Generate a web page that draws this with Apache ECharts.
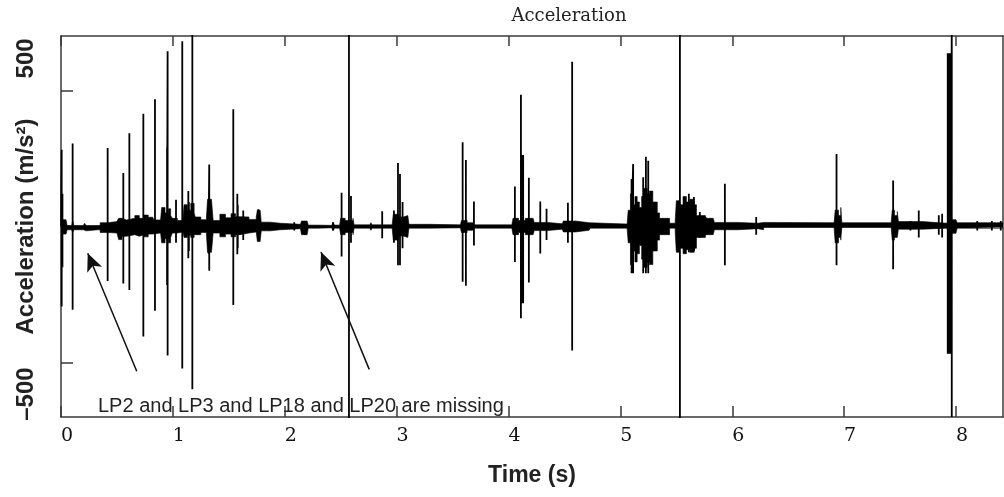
<!DOCTYPE html>
<html>
<head>
<meta charset="utf-8">
<script src="https://cdn.jsdelivr.net/npm/echarts@6/dist/echarts.min.js"></script>
<style>
html,body{margin:0;padding:0;background:#fff;}
#chart{width:1004px;height:497px;}
</style>
</head>
<body>
<div id="chart"></div>
<script>
// ---- data ----
var xTicks = [0, 1, 2, 3, 4, 5, 6, 7, 8];
var yTicks = [-500, 0, 500];
var yTickLabels = [-500, 500];

// isolated impact spikes: time (s), positive peak, negative peak (m/s^2)
var spikeT = [0.006,0.013,0.104,0.417,0.557,0.611,0.736,0.840,0.948,0.953,
              1.028,1.084,1.138,1.143,1.174,1.320,1.325,1.540,1.576,1.580,
              1.629,1.763,2.085,2.180,2.433,2.508,2.574,2.592,2.871,2.976,
              3.012,3.030,3.053,3.590,3.619,3.691,4.057,4.111,4.125,4.131,
              4.182,4.284,4.340,4.531,4.569,5.100,5.114,5.204,5.228,5.249,
              5.279,5.532,5.612,5.657,5.710,5.761,5.934,6.214,6.932,7.438,
              7.593,7.667,7.846,7.876,7.926,7.936,7.946,7.956,7.962,8.190,
              8.320,8.400];
var spikeUp = [282,120,305,288,197,343,414,468,290,644,
               98,681,130,90,760,96,228,431,120,80,
               59,63,16,20,16,124,760,112,56,59,
               233,193,90,310,244,92,147,484,263,263,
               179,92,65,87,605,175,230,181,256,242,
               71,760,120,108,53,35,157,35,266,169,
               20,59,41,47,637,637,637,637,760,20,
               20,20];
var spikeDown = [-294,-150,-306,-200,-209,-233,-404,-310,-215,-474,
                 -60,-522,-117,-90,-598,-100,-163,-288,-102,-80,
                 -50,-45,-15,-30,-15,-110,-760,-60,-43,-60,
                 -142,-142,-80,-203,-218,-70,-130,-337,-282,-282,
                 -206,-99,-50,-60,-456,-172,-172,-172,-172,-172,
                 -60,-760,-95,-90,-40,-30,-142,-30,-142,-157,
                 -15,-40,-30,-40,-468,-468,-468,-468,-700,-15,
                 -15,-15];

// envelope of the dense vibration band around zero (time, upper, lower)
var noiseT = [0.000,0.045,0.055,0.095,0.105,0.115,0.200,0.210,0.225,0.330,
              0.350,0.420,0.500,0.515,0.545,0.585,0.600,0.660,0.700,0.740,
              0.780,0.820,0.830,0.890,0.900,0.930,0.960,0.980,0.995,1.040,
              1.090,1.100,1.130,1.160,1.190,1.200,1.250,1.300,1.310,1.345,
              1.360,1.420,1.470,1.520,1.560,1.600,1.610,1.680,1.745,1.755,
              1.780,1.790,1.870,1.960,1.970,2.050,2.140,2.150,2.200,2.210,
              2.300,2.420,2.430,2.445,2.490,2.500,2.540,2.610,2.620,2.760,
              2.770,2.780,2.960,2.970,3.020,3.060,3.100,3.110,3.300,3.570,
              3.580,3.630,3.680,3.690,4.030,4.040,4.090,4.150,4.220,4.230,
              4.350,4.480,4.490,4.600,4.720,4.730,5.060,5.070,5.090,5.110,
              5.130,5.150,5.170,5.190,5.210,5.240,5.260,5.290,5.330,5.350,
              5.440,5.490,5.500,5.530,5.560,5.590,5.620,5.660,5.680,5.760,
              5.830,5.840,6.050,6.230,6.280,6.910,6.920,6.950,6.970,6.980,
              7.420,7.430,7.450,7.475,7.485,7.700,7.920,7.930,8.000,8.010,
              8.420];
var noiseUp = [25,20,3,3,20,3,3,12,3,4,
               14,18,14,30,24,30,30,40,30,42,
               34,40,24,24,70,50,65,40,30,22,
               30,80,60,85,50,35,25,35,100,95,
               22,45,32,47,36,40,35,26,35,60,
               55,16,12,16,10,8,10,20,18,5,
               4,5,15,5,8,30,22,30,6,6,
               14,6,6,45,35,40,40,8,6,6,
               22,14,20,6,6,30,22,30,30,15,
               10,15,20,14,18,9,9,60,120,80,
               110,90,70,110,140,120,130,90,50,30,
               12,20,95,80,110,90,100,80,40,30,
               35,15,12,15,14,14,60,40,70,14,
               14,60,40,55,18,12,18,25,20,14,
               14];
var noiseDown = [-28,-22,-12,-12,-22,-12,-12,-16,-12,-12,
                 -22,-24,-20,-48,-36,-40,-30,-36,-30,-38,
                 -28,-34,-24,-26,-60,-45,-60,-40,-24,-20,
                 -26,-40,-32,-40,-30,-30,-22,-30,-95,-90,
                 -24,-38,-28,-38,-30,-34,-24,-20,-24,-55,
                 -50,-16,-12,-16,-10,-8,-10,-30,-25,-6,
                 -5,-6,-15,-6,-10,-30,-22,-30,-6,-6,
                 -14,-6,-6,-50,-35,-40,-40,-6,-5,-6,
                 -22,-14,-20,-6,-6,-30,-22,-30,-30,-15,
                 -10,-15,-20,-14,-18,-6,-6,-60,-140,-90,
                 -130,-100,-70,-120,-150,-130,-140,-90,-50,-30,
                 -6,-20,-95,-80,-100,-85,-95,-80,-40,-30,
                 -35,-12,-8,-12,-3,-3,-60,-40,-50,-3,
                 -3,-50,-40,-45,-10,-6,-10,-25,-20,-6,
                 -6];

// annotation arrows (tail -> head, in data units)
var arrowTail = [[0.677, -532], [2.755, -525]];
var arrowHead = [[0.239, -98], [2.324, -94]];
var noteText = 'LP2 and LP3 and LP18 and LP20 are missing';

// ---- build series data ----
var spikeData = [];
for (var i = 0; i < spikeT.length; i++) {
  spikeData.push([spikeT[i], 0], [spikeT[i], spikeUp[i]], [spikeT[i], spikeDown[i]], [spikeT[i], 0]);
}
spikeData.unshift([0, 0]);
spikeData.push([8.42, 0]);
var upData = noiseT.map(function (t, k) { return [t, noiseUp[k]]; });
var dnData = noiseT.map(function (t, k) { return [t, noiseDown[k]]; });
var arrowData = arrowTail.map(function (p, k) { return [{coord: p}, {coord: arrowHead[k]}]; });

var axisCol = '#3a3a3a';
var chart = echarts.init(document.getElementById('chart'), null, {renderer: 'canvas'});
chart.setOption({
  animation: false,
  backgroundColor: '#fff',
  title: {
    text: 'Acceleration', left: 569, top: 7, textAlign: 'center', padding: 0,
    textStyle: {fontFamily: 'DejaVu Serif', fontSize: 18, fontWeight: 'normal', color: '#222'}
  },
  grid: {left: 61, right: 1, top: 36, bottom: 80, containLabel: false, outerBoundsMode: 'none'},
  xAxis: [{
    type: 'value', min: 0, max: 8.42, position: 'bottom',
    name: 'Time (s)', nameLocation: 'middle', nameGap: 47, nameMoveOverlap: false,
    nameTextStyle: {fontFamily: 'Liberation Sans', fontWeight: 'bold', fontSize: 23, color: '#222'},
    axisLine: {show: true, onZero: false, lineStyle: {color: axisCol, width: 1.5}},
    axisTick: {show: true, inside: true, length: 11, customValues: xTicks, lineStyle: {color: axisCol, width: 1.5}},
    axisLabel: {show: true, customValues: xTicks, margin: 10, padding: [0, 0, 0, 12],
      fontFamily: 'DejaVu Serif', fontSize: 19, color: '#111'},
    splitLine: {show: false}
  }, {
    type: 'value', min: 0, max: 8.42, position: 'top',
    axisLine: {show: true, onZero: false, lineStyle: {color: axisCol, width: 1.5}},
    axisTick: {show: true, inside: true, length: 10, customValues: xTicks, lineStyle: {color: axisCol, width: 1.5}},
    axisLabel: {show: false}, splitLine: {show: false}
  }],
  yAxis: [{
    type: 'value', min: -700, max: 700, position: 'left',
    name: 'Acceleration (m/s²)', nameLocation: 'middle', nameRotate: 90, nameGap: 23, nameMoveOverlap: false,
    nameTextStyle: {fontFamily: 'Liberation Sans', fontWeight: 'bold', fontSize: 24, color: '#222'},
    axisLine: {show: true, onZero: false, lineStyle: {color: axisCol, width: 1.5}},
    axisTick: {show: true, inside: true, length: 12, customValues: yTicks, lineStyle: {color: axisCol, width: 1.5}},
    axisLabel: {
      show: true, customValues: yTickLabels, rotate: 90, margin: 23,
      formatter: function (v) { return v > 0 ? '{up|' + v + '}' : '{dn|–' + Math.abs(v) + '}'; },
      rich: {
        up: {fontFamily: 'Liberation Sans', fontWeight: 'bold', fontSize: 24, color: '#222', padding: [0, 0, 0, 64]},
        dn: {fontFamily: 'Liberation Sans', fontWeight: 'bold', fontSize: 24, color: '#222', padding: [0, 63, 0, 0]}
      }
    },
    splitLine: {show: false}
  }, {
    type: 'value', min: -700, max: 700, position: 'right',
    axisLine: {show: true, onZero: false, lineStyle: {color: axisCol, width: 1.5}},
    axisTick: {show: false}, axisLabel: {show: false}, splitLine: {show: false}
  }],
  graphic: [{
    type: 'text', x: 98, y: 406, silent: true,
    style: {text: noteText, fontFamily: 'Liberation Sans', fontSize: 20, fill: '#222', verticalAlign: 'middle'}
  }],
  series: [{
    type: 'line', data: upData, symbol: 'none', silent: true, step: 'end',
    lineStyle: {color: '#000', width: 0.6}, areaStyle: {color: '#000', opacity: 1}
  }, {
    type: 'line', data: dnData, symbol: 'none', silent: true, step: 'end',
    lineStyle: {color: '#000', width: 0.6}, areaStyle: {color: '#000', opacity: 1}
  }, {
    type: 'line', data: spikeData, symbol: 'none', silent: true, clip: true,
    lineStyle: {color: '#000', width: 1.8},
    markLine: {
      silent: true, symbol: ['none', 'arrow'], symbolSize: [12, 18],
      lineStyle: {color: '#111', width: 1.5, type: 'solid'},
      label: {show: false}, emphasis: {disabled: true},
      data: arrowData
    }
  }]
});
</script>
</body>
</html>
